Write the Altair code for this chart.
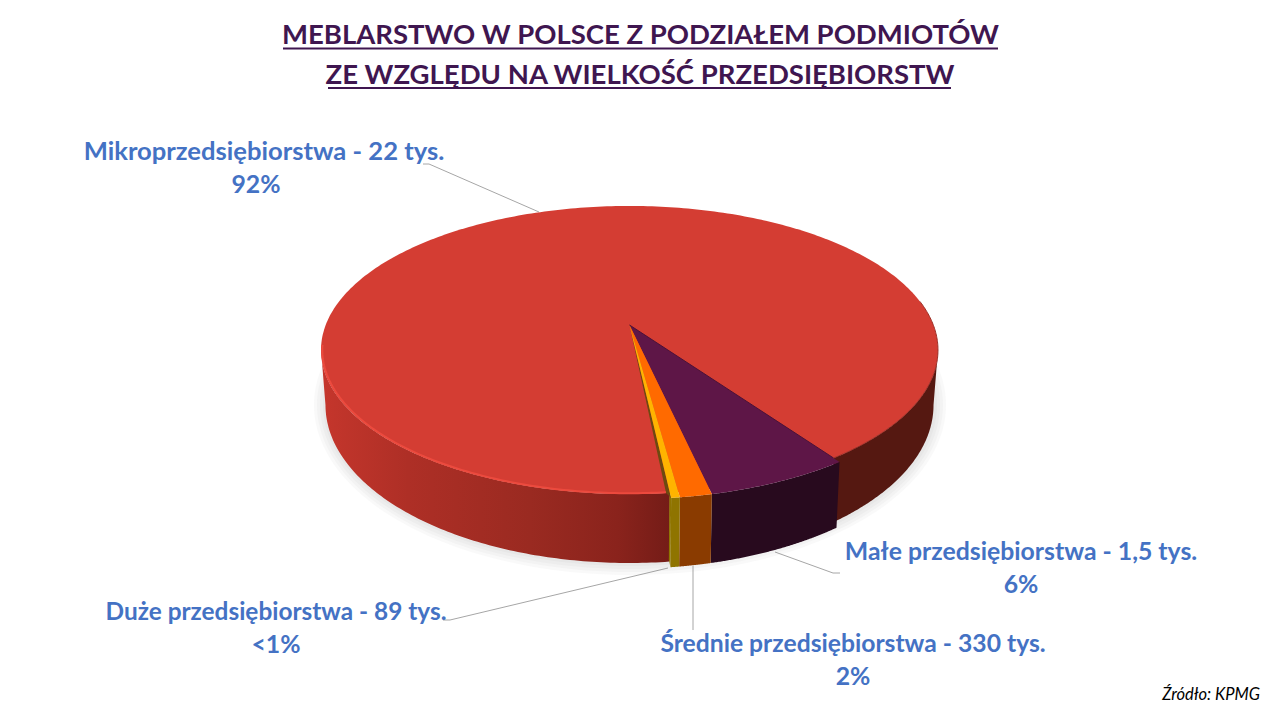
import math
import altair as alt
import pandas as pd

# ---------- data ----------
categories = ["Mikroprzedsiębiorstwa", "Małe przedsiębiorstwa", "Średnie przedsiębiorstwa", "Duże przedsiębiorstwa"]
firm_counts = [22000, 1500, 330, 89]
shares_text = ["92%", "6%", "2%", "<1%"]
count_text = ["22 tys.", "1,5 tys.", "330 tys.", "89 tys."]
title_lines = ["MEBLARSTWO W POLSCE Z PODZIAŁEM PODMIOTÓW", "ZE WZGLĘDU NA WIELKOŚĆ PRZEDSIĘBIORSTW"]
source_text = "Źródło: KPMG"

# ---------- style ----------
FONT = "Lato"
TOP_RED, WALL_RED_R = "#D43D33", "#551811"
TOP = {"Małe": "#5E1647", "Średnie": "#FF6A00", "Duże": "#FFB400"}
WALL = {"Małe": "#280A1E", "Średnie": "#8A3B00", "Duże": "#8F7400"}
LABEL = "#4472C4"
TITLE = "#3F1650"
LEADER = "#A6A6A6"

# ---------- pie geometry: tilted disc seen in perspective ----------
K = 0.1736
START = 35.2  # degrees, from the nearest point of the rim
PIX = {"top": (629.5, 325, 303.8, 139.7), "bottom": (629.5, 377.6, 299.4, 153.2)}


def rim(face, deg, r=1.0):
    x0, y0, a, b = PIX[face]
    u, v = r * math.sin(math.radians(deg)), r * math.cos(math.radians(deg))
    w = 1 - K * v
    return [x0 + a * u / w, y0 + b * v / w]


def span(a, b, n=120):
    return [a + (b - a) * i / n for i in range(n + 1)]


def feature(coords, kind="Polygon"):
    if kind == "Polygon":
        coords = [coords + [coords[0]]]
    return {"type": "Feature", "properties": {}, "geometry": {"type": kind, "coordinates": coords}}


def wedge(a, b, r=1.0):
    return feature([rim("top", 0, 0)] + [rim("top", d, r) for d in span(a, b)])


def wall(a, b, r=1.0):
    return feature([rim("top", d, r) for d in span(a, b)] + [rim("bottom", d, r) for d in span(b, a)])


def shape(feat, **mark):
    return alt.Chart(alt.Data(values=[feat])).mark_geoshape(**mark).project(
        type="identity", scale=1, translate=[-8, -8])


total = sum(firm_counts)
sweep = [c / total * 360 for c in firm_counts]
small = sweep[1:]
edges = [START]
for s in small:
    edges.append(edges[-1] - s)
NAMES = ["Małe", "Średnie", "Duże"]
R = 1.025

layers = []

# soft shadow under the disc
for grow in [12, 9, 6, 3]:
    pts = [[630 + (304 + grow) * math.sin(math.radians(d)), 405 + (158 + grow) * math.cos(math.radians(d))]
           for d in span(0, 360, 180)]
    layers.append(shape(feature(pts), fill="#808080", fillOpacity=0.05))

# walls
left_grad = alt.Gradient(gradient="linear", x1=0, x2=1, y1=0, y2=0, stops=[
    alt.GradientStop(offset=0, color="#C5362C"),
    alt.GradientStop(offset=0.25, color="#AE2F26"),
    alt.GradientStop(offset=0.6, color="#9A2A21"),
    alt.GradientStop(offset=0.85, color="#8A231C"),
    alt.GradientStop(offset=1, color="#741C17"),
])
layers.append(shape(wall(-80, edges[3]), fill=left_grad))
layers.append(shape(wall(START, 80), fill=WALL_RED_R))
# cut face of the smallest slice
layers.append(shape(feature([rim("top", edges[3], 0.99), rim("top", edges[3], R),
                             rim("bottom", edges[3], R), rim("bottom", edges[3], 0.99)]), fill=WALL["Duże"]))
for i, name in enumerate(NAMES):
    layers.append(shape(wall(edges[i + 1], edges[i], R), fill=WALL[name]))

# top faces
layers.append(shape(feature([rim("top", d) for d in span(0, 360, 360)]), fill=TOP_RED))
layers.append(shape(feature([rim("top", 0, 0), rim("top", edges[3] - 0.6, 1.0), rim("top", edges[3], R)]),
                    fill="#6E4A10"))
for i, name in enumerate(NAMES):
    layers.append(shape(wedge(edges[i + 1], edges[i], R), fill=TOP[name]))

# rim highlight, wedge edges
layers.append(shape(feature([rim("top", d, 0.996) for d in span(-82, edges[3] - 0.6)], "LineString"),
                    fill="transparent", stroke="#EC4A3E", strokeWidth=2))
layers.append(shape(feature([rim("top", d, 1.0) for d in span(START, 100)], "LineString"),
                    fill="transparent", stroke="#9C2F27", strokeWidth=1))
layers.append(shape(feature([rim("top", 0, 0), rim("top", edges[0], 1.0)], "LineString"),
                    fill="transparent", stroke="#4A1238", strokeWidth=1))

# ---------- shared pixel-like scales for annotations ----------
X = alt.X("x:Q", scale=alt.Scale(domain=[8, 1272]), axis=None)
Y = alt.Y("y:Q", scale=alt.Scale(domain=[8, 712], reverse=True), axis=None)

# leader lines
leaders = [
    [(423, 164), (429, 164), (539, 212)],
    [(775, 552), (833, 573), (840, 573)],
    [(693, 566), (693, 630)],
    [(668, 568), (450, 620), (443, 620)],
]
lead_rows = [{"x": p[0], "y": p[1], "id": i, "o": j} for i, l in enumerate(leaders) for j, p in enumerate(l)]
layers.insert(0, alt.Chart(pd.DataFrame(lead_rows)).mark_line(color=LEADER, strokeWidth=1).encode(
    x=X, y=Y, detail="id:N", order="o:Q"))

# underlines
rules = pd.DataFrame({"x": [283, 328], "x2": [998, 951], "y": [48.5, 88]})
layers.append(alt.Chart(rules).mark_rule(color=TITLE, strokeWidth=2).encode(x=X, x2="x2:Q", y=Y))

# title
title_df = pd.DataFrame({"x": [640.5, 640], "y": [44, 84], "t": title_lines})
layers.append(alt.Chart(title_df).mark_text(font=FONT, fontWeight="bold", fontSize=27.5, color=TITLE,
                                            align="center", baseline="alphabetic").encode(x=X, y=Y, text="t:N"))

# labels
lab_x = [264, 1021, 853, 276]
lab_y = [160, 560, 652, 620]
pct_x = [256, 1021, 853, 276]
lab_size = [25.6, 24.8, 24.7, 24.4]
rows = []
for cat, cnt, sh, x, y, px, fs in zip(categories, count_text, shares_text, lab_x, lab_y, pct_x, lab_size):
    rows.append({"x": x, "y": y, "t": f"{cat} - {cnt}", "fs": fs})
    rows.append({"x": px, "y": y + 33, "t": sh, "fs": 24.8})
layers.append(alt.Chart(pd.DataFrame(rows)).mark_text(font=FONT, fontWeight="bold", color=LABEL,
                                                      align="center", baseline="alphabetic").encode(
    x=X, y=Y, text="t:N", size=alt.Size("fs:Q", scale=None, legend=None)))

# source
layers.append(alt.Chart(pd.DataFrame({"x": [1260], "y": [700], "t": [source_text]})).mark_text(
    font=FONT, fontStyle="italic", fontSize=16.5, color="black", align="right", baseline="alphabetic"
).encode(x=X, y=Y, text="t:N"))

chart = alt.layer(*layers).properties(width=1264, height=704, padding=0, autosize="none", background="white"
                                      ).configure_view(stroke=None).resolve_scale(x="shared", y="shared")
chart.save("out.html", embed_options={"renderer": "svg", "actions": False})
